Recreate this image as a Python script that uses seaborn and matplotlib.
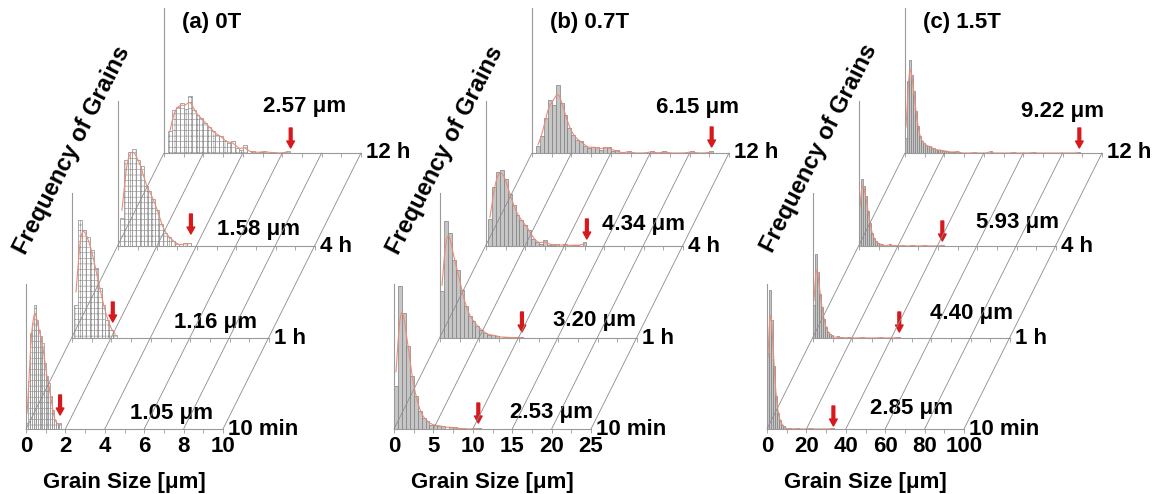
import matplotlib.pyplot as plt
from matplotlib.patches import ConnectionPatch
import numpy as np
import pandas as pd
import seaborn as sns

W, H = 1163, 494

times = ['10 min', '1 h', '4 h', '12 h']
panel_titles = ['(a) 0T', '(b) 0.7T', '(c) 1.5T']
x_max = [10, 25, 100]
x_major = [2, 5, 20]

# panel (a) 0T, layers ordered [10 min, 1 h, 4 h, 12 h]
a_bin_width = [0.1, 0.2, 0.2, 0.2]
a_bin_start = [0.0, 0.1, 0.1, 0.2]
a_freq = [
    [6, 48, 96, 106, 124, 109, 99, 93, 86, 66, 53, 46, 33, 19, 9, 6, 4, 6],
    [33, 118, 108, 101, 88, 70, 50, 33, 18, 8, 3],
    [28, 86, 94, 97, 86, 80, 60, 55, 47, 36, 22, 13, 9, 5],
    [22, 43, 46, 50, 44, 57, 43, 38, 35, 30, 26, 22, 18, 17, 12, 10, 12, 5, 3, 8],
]
a_tail_size = [[], [], [3.0, 3.4, 3.6], [4.5, 4.9, 5.1, 5.5, 6.3]]
a_tail_freq = [[], [], [2, 3, 3], [2, 1, 2, 1, 2]]
a_mean = [1.05, 1.16, 1.58, 2.57]
a_arrow = [1.73, 2.07, 3.7, 6.43]

# panel (b) 0.7T
b_bin_width = [0.5, 0.5, 0.5, 0.5]
b_bin_start = [0.0, 0.0, 0.25, 0.5]
b_freq = [
    [43, 143, 116, 83, 53, 33, 18, 11, 8, 4, 4, 3, 3],
    [47, 117, 105, 78, 68, 48, 32, 22, 17, 12, 8, 5, 3, 3, 2],
    [27, 59, 74, 76, 67, 52, 41, 31, 26, 21, 16, 7, 4, 2, 6, 1, 1, 2, 0, 2, 0, 1, 1, 0, 4],
    [7, 17, 35, 53, 48, 68, 50, 38, 25, 18, 13, 12, 7, 5, 6, 6, 3, 6, 6, 2, 3],
]
b_tail_size = [[7.0, 7.5, 8.5, 10.5], [8.0, 8.5, 9.5, 10.3], [], [12.2, 15.1, 16.8, 20.2, 22.8]]
b_tail_freq = [[2, 2, 1, 1], [1, 1, 1, 1], [], [2, 2, 2, 2, 2]]
b_mean = [2.53, 3.20, 4.34, 6.15]
b_arrow = [10.7, 10.4, 12.8, 22.8]

# panel (c) 1.5T
c_bin_width = [1.0, 1.0, 1.0, 1.0]
c_bin_start = [0.0, 0.0, 0.0, 0.0]
c_freq = [
    [76, 139, 109, 63, 33, 16, 9, 4, 3],
    [33, 84, 66, 44, 31, 19, 11, 6, 4, 3],
    [45, 67, 60, 50, 35, 23, 13, 8, 5, 3, 2, 2],
    [15, 72, 93, 78, 62, 42, 27, 17, 12, 10, 8, 7, 7, 5, 5, 3, 3, 3, 3, 2, 2, 2, 1, 1, 1, 1, 2, 1],
]
c_tail_size = [[11, 15, 22, 33], [12, 14, 18, 25, 34, 43], [15, 18, 22, 27, 33, 42], [35, 43, 55, 65, 88]]
c_tail_freq = [[1, 1, 1, 1], [2, 1, 1, 1, 1, 1], [2, 1, 1, 1, 1, 1], [1, 2, 1, 1, 1]]
c_mean = [2.85, 4.40, 5.93, 9.22]
c_arrow = [33.7, 43.8, 42.3, 88.5]

panels = [
    (a_bin_width, a_bin_start, a_freq, a_tail_size, a_tail_freq, a_mean, a_arrow),
    (b_bin_width, b_bin_start, b_freq, b_tail_size, b_tail_freq, b_mean, b_arrow),
    (c_bin_width, c_bin_start, c_freq, c_tail_size, c_tail_freq, c_mean, c_arrow),
]

# layout (pixels)
panel_x0 = [26, 394, 767]
layer_y = [429, 338, 246, 153]
layer_dx = 46
layer_w, layer_h = 197, 145
arrow_tip = [[14, 16, 12, 5], [6, 6, 7, 6], [3, 6, 5, 5]]
label_fx = [[.741, .726, .711, .711], [.802, .782, .802, .838], [.736, .807, .807, .797]]
label_fy = [[.110, .110, .117, .324], [.117, .124, .145, .317], [.138, .172, .159, .283]]
freq_label_xy = [(72, 150), (445, 150), (819, 148)]

sns.set_theme(style='white')
plt.rcParams['font.family'] = ['Liberation Sans', 'DejaVu Sans']
plt.rcParams['font.weight'] = 'bold'
plt.rcParams['text.color'] = 'black'
plt.rcParams['axes.labelcolor'] = 'black'
plt.rcParams['xtick.labelcolor'] = 'black'
plt.rcParams['hatch.linewidth'] = 0.4
plt.rcParams['hatch.color'] = '#8a8a8a'

AXIS_C = '#9a9a9a'
RED = '#d7191c'
FIT_C = '#ec8c78'

fig = plt.figure(figsize=(W / 100, H / 100), dpi=100)


def fig_rect(x, y_base):
    return [x / W, 1 - y_base / H, layer_w / W, layer_h / H]


for p, (bw, bs, freqs, tsz, tfq, means, arrows) in enumerate(panels):
    xm = x_max[p]
    layer_axes = []
    for i in range(4):
        ax = fig.add_axes(fig_rect(panel_x0[p] + i * layer_dx, layer_y[i]))
        ax.set_facecolor('none')
        width = bw[i]
        edges = bs[i] + width * np.arange(len(freqs[i]) + 1)
        df = pd.DataFrame({
            'size': np.concatenate([edges[:-1] + width / 2, tsz[i]]),
            'freq': np.concatenate([freqs[i], tfq[i]]).astype(float),
        })
        mu = np.average(df['size'], weights=df['freq'])
        sd = np.sqrt(np.average((df['size'] - mu) ** 2, weights=df['freq']))
        bins = list(np.arange(bs[i], xm + width / 2, width))

        if p == 0:
            style = dict(color='white', edgecolor='#8a8a8a', hatch='+++')
        else:
            style = dict(color='#c6c6c6', edgecolor='#808080')
        sns.histplot(data=df, x='size', weights='freq', bins=bins, ax=ax, kde=True,
                     kde_kws=dict(bw_method=0.75 * width / sd, clip=(0, xm)),
                     line_kws=dict(lw=0.8), linewidth=0.5, alpha=1, **style)
        ax.lines[-1].set_color(FIT_C)

        ax.set_xlim(0, xm)
        ax.set_ylim(0, layer_h)
        ax.set_xticks(np.arange(0, xm + 0.01, x_major[p]))
        ax.set_xticks(np.arange(0, xm + 0.01, x_major[p] / 2), minor=True)
        ax.set_yticks([])
        ax.set_xlabel('')
        ax.set_ylabel('')
        for s in ['top', 'right']:
            ax.spines[s].set_visible(False)
        for s in ['left', 'bottom']:
            ax.spines[s].set_color(AXIS_C)
            ax.spines[s].set_linewidth(0.8)
        ax.tick_params(axis='x', which='both', length=3, width=0.6,
                       color=AXIS_C, direction='out', bottom=True)
        if i == 0:
            ax.tick_params(axis='x', labelsize=16, pad=2, labelcolor='black')
            for t in ax.get_xticklabels():
                t.set_fontweight('bold')
            ax.set_xlabel('Grain Size [μm]', fontsize=16, fontweight='bold',
                          labelpad=11, color='black')
        else:
            ax.tick_params(axis='x', labelbottom=False)

        ax.annotate('', xy=(arrows[i], arrow_tip[p][i]),
                    xytext=(arrows[i], arrow_tip[p][i] + 20),
                    arrowprops=dict(facecolor=RED, edgecolor=RED, width=2.0,
                                    headwidth=5.5, headlength=5, shrink=0))
        ax.text(label_fx[p][i], label_fy[p][i], f'{means[i]:.2f} μm',
                transform=ax.transAxes, ha='center', va='center',
                fontsize=16, fontweight='bold', color='black')
        ax.text(1.025, 0, times[i], transform=ax.transAxes, ha='left',
                va='center', fontsize=16, fontweight='bold', color='black')
        layer_axes.append(ax)

    top = layer_axes[-1]
    top.text(18 / layer_w, 0.897, panel_titles[p], transform=top.transAxes,
             ha='left', va='center', fontsize=16, fontweight='bold', color='black')

    front, back = layer_axes[0], layer_axes[-1]
    for t in np.arange(0, xm + 0.01, x_major[p]):
        con = ConnectionPatch(xyA=(t, 0), coordsA=front.transData,
                              xyB=(t, 0), coordsB=back.transData,
                              color='#8c8c8c', lw=0.6)
        fig.add_artist(con)

    fx, fy = freq_label_xy[p]
    fig.text(fx / W, 1 - fy / H, 'Frequency of Grains', rotation=63,
             rotation_mode='anchor', ha='center', va='center',
             fontsize=17, fontweight='bold', color='black')

fig.savefig('out.png', dpi=100)
